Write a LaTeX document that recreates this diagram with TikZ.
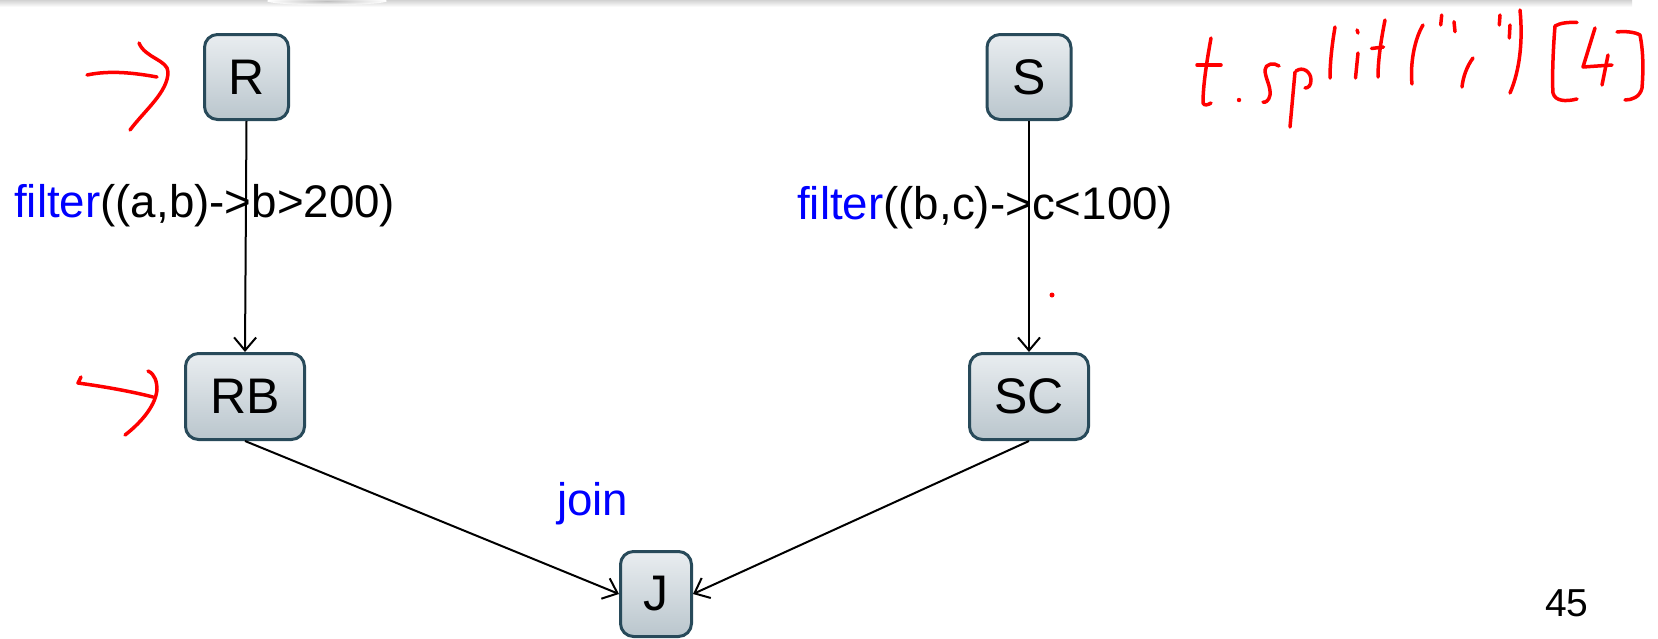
\documentclass[tikz,border=0pt]{standalone}
\usepackage{fontspec}
\setmainfont{Liberation Sans}
\usetikzlibrary{arrows.meta}

\definecolor{boxedge}{RGB}{40,74,90}
\definecolor{boxtop}{RGB}{233,237,240}
\definecolor{boxbot}{RGB}{186,198,205}

\tikzset{
  opbox/.style={draw=boxedge, line width=3pt, rounded corners=13pt,
    top color=boxtop, bottom color=boxbot, inner sep=0pt,
    font=\fontsize{50}{56}\selectfont},
  flow/.style={line width=2pt, -{Straight Barb[length=13pt,width=22pt]}},
  lbl/.style={font=\fontsize{45.7}{52}\selectfont, inner sep=0pt, anchor=base west},
  ink/.style={draw=red, line width=3.5pt, line cap=round, line join=round},
}

\begin{document}
\begin{tikzpicture}[x=1pt, y=-1pt]
\useasboundingbox (0,0) rectangle (1658,638);
\fill[white] (0,0) rectangle (1658,638);

% header edge shadow
\shade[top color=gray!35, bottom color=white] (0,0) rectangle (1632,7);
\shade[inner color=gray!50, outer color=white] (327,1) ellipse (60pt and 4pt);

% operators
\node[opbox, minimum width=84pt, minimum height=85pt] (R) at (246.5,77) {R};
\node[opbox, minimum width=84pt, minimum height=85pt] (S) at (1029,77) {S};
\node[opbox, minimum width=119pt, minimum height=86pt] (RB) at (245,396.5) {RB};
\node[opbox, minimum width=119pt, minimum height=86pt] (SC) at (1029,396.5) {SC};
\node[opbox, minimum width=71pt, minimum height=85pt] (J) at (656,594) {J};

% transformation labels
\node[lbl] (fa) at (14,217) {\textcolor{blue}{filter}((a,b)->b>200)};
\node[lbl] (fb) at (797,219) {\textcolor{blue}{filter}((b,c)->c<100)};
\node[lbl, text=blue] (jl) at (557,515) {join};
\node[inner sep=0pt, anchor=base west, font=\fontsize{39}{45}\selectfont] (pg) at (1545,616.5) {45};

% data flow
\draw[flow] (R.south) -- (RB.north);
\draw[flow] (S.south) -- (SC.north);
\draw[flow] (RB.south) -- (J.west);
\draw[flow] (SC.south) -- (J.east);

% pen annotations: arrows
\draw[ink] (87,75) .. controls (110,70) and (135,73) .. (157,77);
\draw[ink] (139,43) .. controls (145,58) and (168,60) .. (168,72) .. controls (168,92) and (145,110) .. (130,130);
\draw[ink] (81,377) -- (78,383) .. controls (100,386) and (130,391) .. (153,397);
\draw[ink] (148,371) .. controls (155,374) and (157,382) .. (157,390) .. controls (155,408) and (138,425) .. (125,435);
\fill[red] (1052,295) circle (2.5pt);

% pen annotations: t.split(",")[4]
\draw[ink] (1211,38) .. controls (1207,60) and (1203,85) .. (1203,103) .. controls (1204,106) and (1208,105) .. (1211,103);
\draw[ink] (1197,65) -- (1221,65);
\fill[red] (1239,100) circle (2.2pt);
\draw[ink] (1279,66) .. controls (1274,62) and (1265,64) .. (1265,70) .. controls (1265,78) and (1271,86) .. (1270,95) .. controls (1269,101) and (1265,103) .. (1263,102);
\draw[ink] (1295,72) -- (1290,127);
\draw[ink] (1296,71) .. controls (1303,66) and (1311,72) .. (1311,80) .. controls (1311,86) and (1308,88) .. (1305,88);
\draw[ink] (1335,27) .. controls (1332,45) and (1330,62) .. (1330,78);
\draw[ink] (1358,53) -- (1355.5,78);
\draw[ink] (1357,30) -- (1358,33);
\draw[ink] (1385,20) .. controls (1381,40) and (1378,60) .. (1378,77);
\draw[ink] (1371.5,48.5) -- (1383.5,47);
\draw[ink] (1423,25) .. controls (1414,40) and (1410,65) .. (1412,84);
\draw[ink] (1441.7,15) -- (1440.7,25);
\draw[ink] (1454,21.7) -- (1455,31.7);
\draw[ink] (1473,58) .. controls (1467,66) and (1463,77) .. (1462,87);
\draw[ink] (1500,15) -- (1499.3,25);
\draw[ink] (1510,25) -- (1509.3,38);
\draw[ink] (1520,10) .. controls (1523,40) and (1520,70) .. (1510,93);
\draw[ink] (1577,22.5) .. controls (1568,22) and (1560,23) .. (1555,26) .. controls (1553,50) and (1552,80) .. (1553,93) .. controls (1555,101) and (1565,102) .. (1577,99);
\draw[ink] (1595,28) -- (1583,67) -- (1612,65);
\draw[ink] (1608,55) -- (1602,85);
\draw[ink] (1617,32) .. controls (1625,31) and (1635,32) .. (1640,35) .. controls (1644,55) and (1643,75) .. (1642,88) .. controls (1640,97) and (1632,100) .. (1625,100);
\end{tikzpicture}
\end{document}
